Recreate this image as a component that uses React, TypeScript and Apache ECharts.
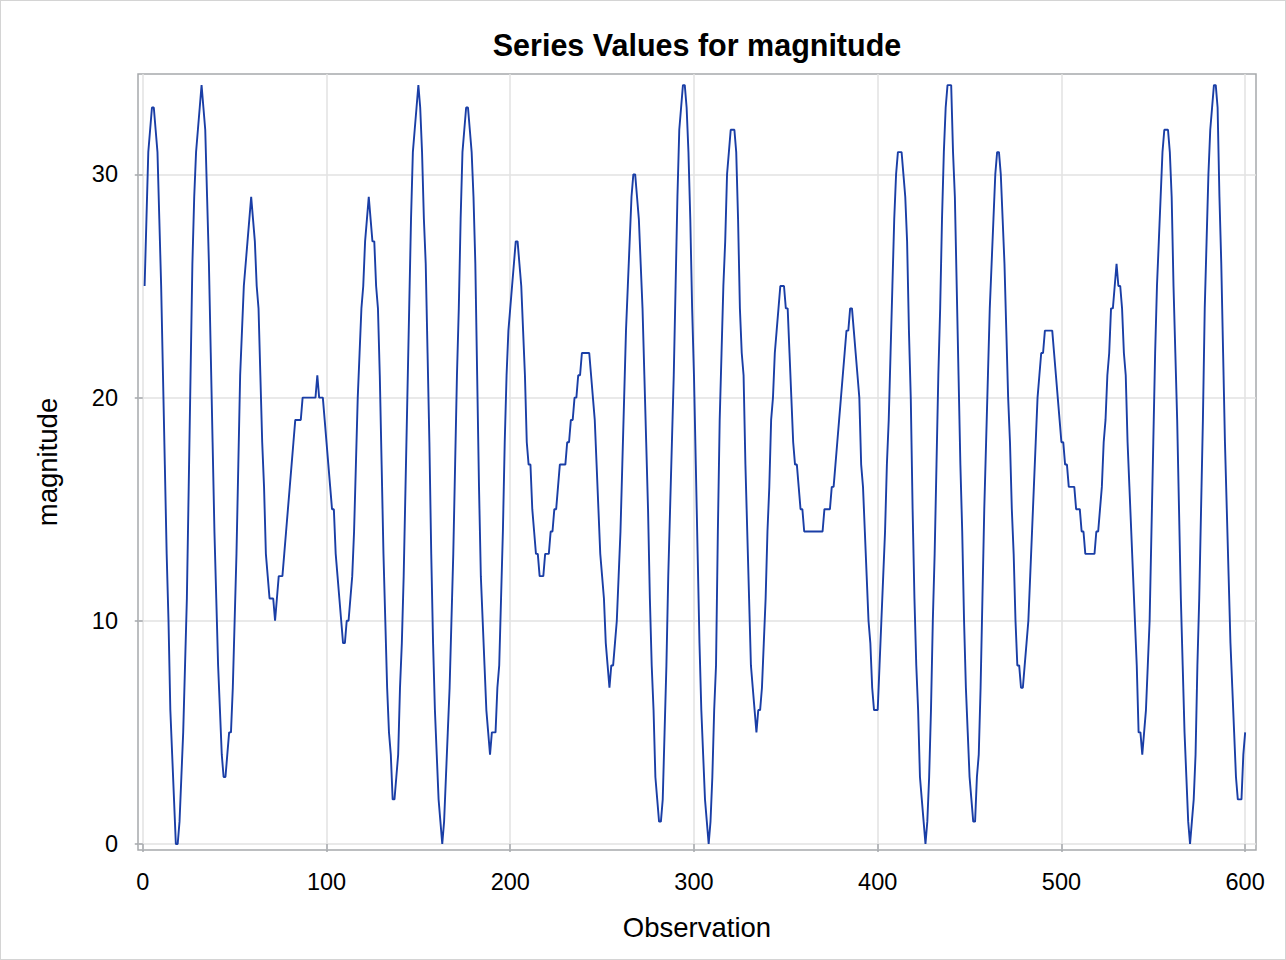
import React, { useEffect, useRef } from "react";
import * as echarts from "echarts";

const magnitude: number[] = [
  25, 28, 31, 32, 33, 33, 32, 31, 28, 25,
  21, 17, 13, 10, 6, 4, 2, 0, 0, 1,
  3, 5, 8, 11, 16, 21, 26, 29, 31, 32,
  33, 34, 33, 32, 29, 26, 22, 18, 14, 11,
  8, 6, 4, 3, 3, 4, 5, 5, 7, 10,
  13, 17, 21, 23, 25, 26, 27, 28, 29, 28,
  27, 25, 24, 21, 18, 16, 13, 12, 11, 11,
  11, 10, 11, 12, 12, 12, 13, 14, 15, 16,
  17, 18, 19, 19, 19, 19, 20, 20, 20, 20,
  20, 20, 20, 20, 21, 20, 20, 20, 19, 18,
  17, 16, 15, 15, 13, 12, 11, 10, 9, 9,
  10, 10, 11, 12, 14, 17, 20, 22, 24, 25,
  27, 28, 29, 28, 27, 27, 25, 24, 21, 17,
  13, 10, 7, 5, 4, 2, 2, 3, 4, 7,
  9, 12, 16, 20, 24, 28, 31, 32, 33, 34,
  33, 31, 28, 26, 22, 18, 13, 9, 6, 4,
  2, 1, 0, 1, 3, 5, 7, 10, 13, 17,
  21, 24, 28, 31, 32, 33, 33, 32, 31, 29,
  26, 21, 16, 12, 10, 8, 6, 5, 4, 5,
  5, 5, 7, 8, 11, 14, 18, 21, 23, 24,
  25, 26, 27, 27, 26, 25, 23, 21, 18, 17,
  17, 15, 14, 13, 13, 12, 12, 12, 13, 13,
  13, 14, 14, 15, 15, 16, 17, 17, 17, 17,
  18, 18, 19, 19, 20, 20, 21, 21, 22, 22,
  22, 22, 22, 21, 20, 19, 17, 15, 13, 12,
  11, 9, 8, 7, 8, 8, 9, 10, 12, 14,
  17, 20, 23, 25, 27, 29, 30, 30, 29, 28,
  26, 24, 21, 18, 15, 11, 8, 6, 3, 2,
  1, 1, 2, 5, 8, 12, 15, 18, 21, 25,
  29, 32, 33, 34, 34, 33, 31, 28, 24, 21,
  17, 13, 9, 6, 4, 2, 1, 0, 1, 3,
  6, 8, 14, 19, 22, 25, 27, 30, 31, 32,
  32, 32, 31, 28, 24, 22, 21, 17, 14, 11,
  8, 7, 6, 5, 6, 6, 7, 9, 11, 14,
  16, 19, 20, 22, 23, 24, 25, 25, 25, 24,
  24, 22, 20, 18, 17, 17, 16, 15, 15, 14,
  14, 14, 14, 14, 14, 14, 14, 14, 14, 14,
  15, 15, 15, 15, 16, 16, 17, 18, 19, 20,
  21, 22, 23, 23, 24, 24, 23, 22, 21, 20,
  17, 16, 14, 12, 10, 9, 7, 6, 6, 6,
  8, 10, 12, 14, 17, 19, 22, 25, 28, 30,
  31, 31, 31, 30, 29, 27, 23, 20, 15, 11,
  8, 6, 3, 2, 1, 0, 1, 3, 6, 10,
  13, 17, 21, 24, 28, 31, 33, 34, 34, 34,
  31, 29, 25, 21, 17, 14, 10, 7, 5, 3,
  2, 1, 1, 3, 4, 7, 11, 15, 18, 21,
  24, 26, 28, 30, 31, 31, 30, 28, 26, 23,
  20, 18, 15, 13, 10, 8, 8, 7, 7, 8,
  9, 10, 12, 14, 16, 18, 20, 21, 22, 22,
  23, 23, 23, 23, 23, 22, 21, 20, 19, 18,
  18, 17, 17, 16, 16, 16, 16, 15, 15, 15,
  14, 14, 13, 13, 13, 13, 13, 13, 14, 14,
  15, 16, 18, 19, 21, 22, 24, 24, 25, 26,
  25, 25, 24, 22, 21, 18, 16, 14, 12, 10,
  8, 5, 5, 4, 5, 6, 8, 10, 14, 18,
  22, 25, 27, 29, 31, 32, 32, 32, 31, 29,
  25, 22, 19, 15, 11, 8, 5, 3, 1, 0,
  1, 2, 4, 8, 11, 15, 19, 24, 27, 30,
  32, 33, 34, 34, 33, 29, 26, 22, 18, 15,
  12, 9, 7, 5, 3, 2, 2, 2, 4, 5,
];

const xTicks: number[] = [0, 100, 200, 300, 400, 500, 600];
const yTicks: number[] = [0, 10, 20, 30];
const chartTitle = "Series Values for magnitude";
const xName = "Observation";
const yName = "magnitude";

const FONT = "'Liberation Sans', Arial, Helvetica, sans-serif";
const FRAME = "#a6a9ac";
const GRIDLINE = "#e2e2e2";
const LINE = "#1a3ea6";

export default function App() {
  const ref = useRef<HTMLDivElement>(null);

  useEffect(() => {
    if (!ref.current) return;
    const chart = echarts.init(ref.current, null, { renderer: "svg" });
    const seriesData = magnitude.map((v, i) => [i + 1, v]);

    chart.setOption({
      animation: false,
      backgroundColor: "#ffffff",
      textStyle: { fontFamily: FONT },
      graphic: [
        {
          type: "text",
          x: 697,
          y: 29,
          style: {
            text: chartTitle,
            fill: "#000000",
            fontFamily: FONT,
            fontSize: 30.5,
            fontWeight: "bold",
            align: "center",
            textAlign: "center",
            verticalAlign: "top",
            textVerticalAlign: "top",
          },
        },
      ],
      grid: {
        left: 138,
        top: 74,
        right: 30,
        bottom: 110,
        show: true,
        borderColor: FRAME,
        borderWidth: 1.5,
        backgroundColor: "transparent",
      },
      xAxis: {
        type: "value",
        min: -2.6,
        max: 605.9,
        splitNumber: 6,
        axisLine: { show: false },
        axisTick: {
          show: true,
          inside: false,
          length: 8,
          customValues: xTicks,
          lineStyle: { color: FRAME, width: 1.5 },
        },
        axisLabel: {
          customValues: xTicks,
          margin: 20,
          fontSize: 23.5,
          color: "#000000",
          fontFamily: FONT,
          formatter: (v: number) => (xTicks.indexOf(v) >= 0 ? String(v) : ""),
        },
        splitLine: { show: true, lineStyle: { color: GRIDLINE, width: 1.5 } },
        name: xName,
        nameLocation: "middle",
        nameGap: 63,
        nameTextStyle: { fontSize: 27.5, color: "#000000", fontFamily: FONT },
      },
      yAxis: {
        type: "value",
        min: -0.27,
        max: 34.5,
        splitNumber: 3,
        axisLine: { show: false },
        axisTick: {
          show: true,
          inside: false,
          length: 8,
          customValues: yTicks,
          lineStyle: { color: FRAME, width: 1.5 },
        },
        axisLabel: {
          customValues: yTicks,
          margin: 20,
          fontSize: 23.5,
          color: "#000000",
          fontFamily: FONT,
          formatter: (v: number) => (yTicks.indexOf(v) >= 0 ? String(v) : ""),
        },
        splitLine: { show: true, lineStyle: { color: GRIDLINE, width: 1.5 } },
        name: yName,
        nameLocation: "middle",
        nameGap: 77,
        nameRotate: 90,
        nameTextStyle: { fontSize: 27.5, color: "#000000", fontFamily: FONT },
      },
      series: [
        {
          type: "line",
          data: seriesData,
          showSymbol: false,
          symbol: "none",
          silent: true,
          lineStyle: { color: LINE, width: 1.9 },
        },
      ],
    });

    return () => {
      chart.dispose();
    };
  }, []);

  return (
    <div style={{ position: "absolute", left: 0, top: 0, width: 1286, height: 960 }}>
      <div ref={ref} style={{ position: "absolute", left: 0, top: 0, width: 1286, height: 960 }} />
      <div
        style={{
          position: "absolute",
          left: 0,
          top: 0,
          width: 1286,
          height: 960,
          boxSizing: "border-box",
          border: "1px solid #d4d4d4",
          pointerEvents: "none",
        }}
      />
    </div>
  );
}
